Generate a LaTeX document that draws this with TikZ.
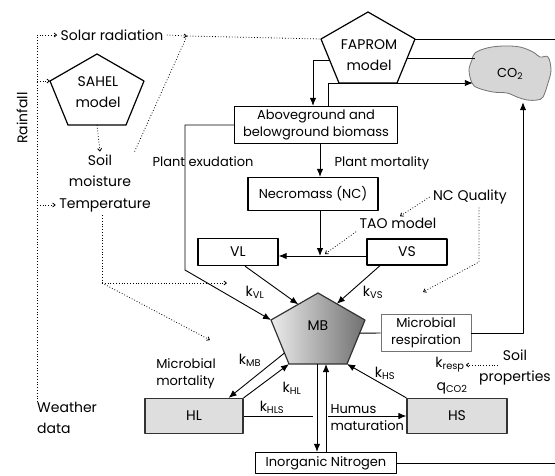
\documentclass[tikz,border=0pt]{standalone}
\usepackage{fontspec}
\setmainfont{Poppins}
\usetikzlibrary{
  shapes.geometric,
  positioning,
  calc,
  arrows.meta}
\definecolor{poolcolor}{RGB}{222,222,222}
\definecolor{cloudcolor}{RGB}{214,214,214}
\definecolor{mblight}{RGB}{236,236,236}
\definecolor{mbdark}{RGB}{112,112,112}
\tikzset{
  %% model : stretched pentagon for a sub-model (SAHEL, FAPROM, MB)
  pics/model/.style={code={
    \coordinate (-n) at (0,-39);
    \coordinate (-e) at (47,-12);
    \coordinate (-se) at (29,32);
    \coordinate (-s) at (0,32);
    \coordinate (-sw) at (-29,32);
    \coordinate (-w) at (-47,-12);
    \coordinate (-we) at (-38,9);
    \coordinate (-ea) at (39,7);
    \path [#1] (-n) -- (-e) -- (-se) -- (-sw) -- (-w) -- cycle;
  }},
  %% big : the larger labels
  big/.style={font=\fontsize{14}{21}\selectfont},
  %% small : the smaller labels and box texts
  small/.style={font=\fontsize{13}{17}\selectfont},
  %% box : a plain carbon pool
  box/.style={
    rectangle,
    draw=black,
    line width=1.3pt,
    align=center,
    small
  },
  %% pool : a humus pool
  pool/.style={
    rectangle,
    draw=black!80,
    line width=1.2pt,
    fill=poolcolor,
    align=center,
    big
  },
  %% flux : a flux box
  flux/.style={
    rectangle,
    draw=black!55,
    line width=0.8pt,
    align=center,
    small
  },
  %% klabel : a rate constant
  klabel/.style={big, inner sep=1pt},
  %% flow : a plain carbon flow line
  flow/.style={line width=0.9pt},
  %% arr : a carbon flow with its head
  arr/.style={flow, -{Latex[length=8pt, width=6.5pt]}},
  %% dotline : an influence of the environment
  dotline/.style={line width=0.8pt, dotted},
  dotarr/.style={dotline, -{Straight Barb[length=2.5pt, width=4pt]}},
  %% cloud : the atmosphere
  cloud/.style={draw=black!55, line width=0.8pt, fill=cloudcolor}
}
\newcommand{\ksub}[1]{\textsubscript{#1}}

\begin{document}
\begin{tikzpicture}
  [x=1pt,
  y=-1pt,
  line join=round]
  \useasboundingbox (0,0) rectangle (555,475);

  %% Weather inputs
  \node (solar) [big] at (112,35) {Solar radiation};
  \node (rainfall) [big, rotate=90] at (22,118) {Rainfall};
  \pic (sahel) at (97,93) {model={draw=black, line width=1.2pt}};
  \node (sahel text) [big, align=center] at (98,92) {SAHEL\\model};
  \node (soil) [big, align=center] at (100,171) {Soil\\moisture};
  \node (temp) [big] at (105,205) {Temperature};
  \node (weather) [big, align=left, anchor=north west, inner sep=0pt]
    at (37,402) {Weather\\data};

  %% FAPROM and the atmosphere
  \pic (faprom) at (368,51) {model={draw=black, line width=1.2pt}};
  \node (faprom text) [big, align=center] at (369,55) {FAPROM\\model};
  \draw [cloud] plot [smooth cycle, tension=0.6] coordinates {
    (475,53) (487,48) (503,46) (520,47) (533,52) (540,57) (548,57)
    (551,70) (548,83) (543,97) (537,100) (527,100) (517,97) (507,93)
    (493,92) (478,88) (472,83) (469,70) (472,60)};
  \node (co2) [ellipse, minimum width=82, minimum height=56, small]
    at (510,74) {CO\ksub{2}};

  %% Plant part
  \node (bio) [box, minimum width=163, minimum height=37] at (316,125)
    {Aboveground and\\belowground biomass};
  \node (necro) [box, minimum width=130, minimum height=33] at (313,194)
    {Necromass (NC)};
  \node (exud) [small] at (203,162) {Plant exudation};
  \node (pmort) [small, anchor=west] at (331,163) {Plant mortality};
  \node (ncq) [big] at (470,197) {NC Quality};
  \node (tao) [big] at (398,223) {TAO model};

  %% Soil pools
  \node (vl) [box, big, minimum width=80, minimum height=27] at (238,252) {VL};
  \node (vs) [box, big, minimum width=80, minimum height=26] at (407,252) {VS};
  \coordinate (vjoin) at (320,256);
  \pic (mb) at (318,332)
    {model={draw=black!80, line width=1.2pt, left color=mblight, right color=mbdark}};
  \node (mb text) [big] at (318,326) {MB};
  \node (resp) [flux, minimum width=90, minimum height=33] at (426,333)
    {Microbial\\respiration};
  \node (micmort) [small, align=left] at (186,374) {Microbial\\mortality};
  \node (hl) [pool, minimum width=98, minimum height=35] at (194,416) {HL};
  \node (hs) [pool, minimum width=100, minimum height=35] at (457,416) {HS};
  \node (nitro) [box, minimum width=141, minimum height=21] at (326,463)
    {Inorganic Nitrogen};
  \node (humus) [small, align=left, anchor=west] at (327,418) {Humus\\maturation};
  \node (soilprop) [big, align=center] at (515,367) {Soil\\properties};

  %% Rate constants
  \node (kvl) [klabel] at (255,292) {k\ksub{VL}};
  \node (kvs) [klabel] at (373,292) {k\ksub{VS}};
  \node (kmb) [klabel] at (250,360) {k\ksub{MB}};
  \node (khl) [klabel] at (292,388) {k\ksub{HL}};
  \node (khls) [klabel] at (272,407) {k\ksub{HLS}};
  \node (khs) [klabel] at (385,373) {k\ksub{HS}};
  \node (kresp) [klabel] at (450,365) {k\ksub{resp}};
  \node (qco2) [klabel] at (452,388) {q\ksub{CO2}};

  %% Connections: weather data
  \draw [dotarr] (weather.north west) |- (solar.west);
  \draw [dotarr] (weather.north west |- sahel-w) -- (sahel-w);
  \draw [dotarr] (weather.north west |- temp.west) -- (temp.west);
  \coordinate (solar fork) at (187,36);
  \draw [dotarr] (solar.east) -- (solar fork);
  \draw [dotline] (solar fork) -- (faprom-w);
  \draw [dotline] (soil.north east) -- (solar fork);
  \draw [dotarr] (sahel-s) -- (soil.north);
  \coordinate (temp fork) at (102,283);
  \coordinate (temp to vl) at (227,283);
  \coordinate (temp to mb) at (210,340);
  \draw [dotline] (temp.south -| temp fork) -- (temp fork);
  \draw [dotarr] (temp fork) -- (temp to vl);
  \draw [dotarr] (temp fork) -- (temp to mb);

  %% Connections: NC quality and TAO model
  \coordinate (ncq bend) at (479,262);
  \coordinate (ncq end) at (423,292);
  \draw [dotarr] (ncq.west) -- ($(tao.north)+(2,2)$);
  \draw [dotarr] (ncq.south -| ncq bend) -- (ncq bend) -- (ncq end);
  \draw [dotarr] (tao.south west) -- ($(vjoin)+(5,-2)$);
  \coordinate (soil prop tail) at ($(soilprop)+(-17,-2)$);
  \draw [dotarr] (soil prop tail) -- (kresp.east);

  %% Connections: plant part
  \coordinate (edge ne) at (555,39);
  \draw [flow] (faprom-e) -- (edge ne);
  \draw [flow] (faprom-ea) -- ($(co2.west)+(6,-16)$);
  \draw [arr] (faprom-we) -| ($(bio.north)+(-3,0)$);
  \draw [arr] ($(bio.north)+(12,0)$) |- ($(co2.west)+(4,9)$);
  \draw [arr] ($(bio.south)+(4,0)$) -- ($(necro.north)+(7,0)$);
  \draw [arr] (necro.south -| vjoin) -- (vjoin);
  \draw [arr, {Latex[length=8pt, width=6.5pt]}-] (vl.east |- vjoin) -- (vs.west |- vjoin);
  \coordinate (exud bend) at (185,270);
  \draw [arr] (bio.west) -| (exud bend) -- (mb-w);

  %% Connections: soil part
  \draw [arr] ($(vl.south)+(7,0)$) -- ($(mb-n)!0.42!(mb-w)$);
  \draw [arr] ($(vs.south)+(-27,0)$) -- ($(mb-n)!0.4!(mb-e)$);
  \draw [arr] ($(mb-w)!0.75!(mb-sw)$) -- ($(hl.north east)+(-15,0)$);
  \draw [arr] (hl.north east) -- (mb-sw);
  \draw [arr] (hs.north west) -- (mb-se);
  \coordinate (n down) at ($(nitro.north)+(-9,0)$);
  \draw [arr] (n down |- mb-s) -- (n down);
  \draw [arr] (nitro.north) -- (nitro.north |- mb-s);
  \draw [flow] ($(mb-e)!0.3!(mb-se)$) -- (resp.west);
  \draw [arr] (resp.east) -| ($(co2.south)+(13,0)$);
  \coordinate (hls gap a) at (313,416);
  \coordinate (hls gap b) at (328,416);
  \draw [flow] (hl.east) -- (hls gap a);
  \draw [arr] (hls gap b) -- (hs.west);
  \coordinate (edge se) at (555,463);
  \draw [flow] (nitro.east) -- (edge se);

\end{tikzpicture}
\end{document}
